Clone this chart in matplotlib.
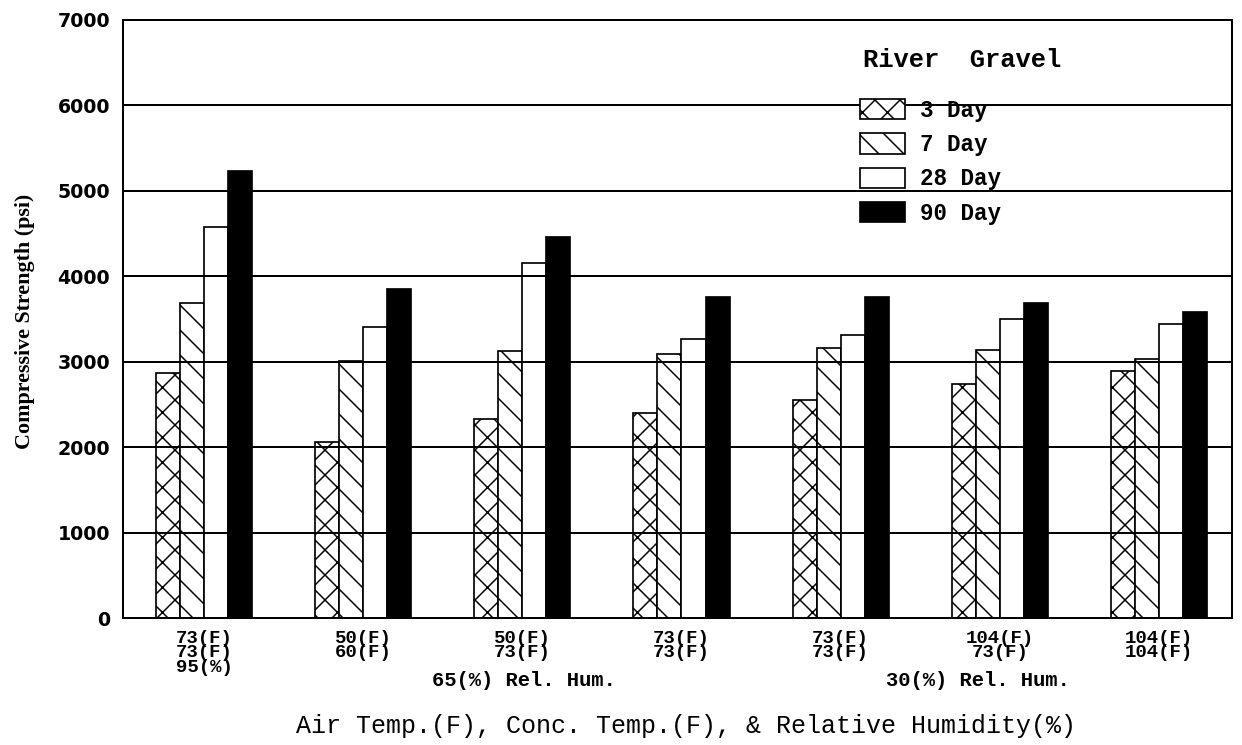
import numpy as np
import matplotlib.pyplot as plt
from matplotlib.patches import Patch
from matplotlib.transforms import blended_transform_factory

DPI = 150
k = 72 / DPI  # pixels -> points

plt.rcParams['hatch.linewidth'] = 1.5 * k

groups = ["73(F)\n73(F)\n95(%)", "50(F)\n60(F)", "50(F)\n73(F)", "73(F)\n73(F)",
          "73(F)\n73(F)", "104(F)\n73(F)", "104(F)\n104(F)"]
day3 = [2870, 2065, 2335, 2405, 2555, 2740, 2890]
day7 = [3690, 3010, 3130, 3090, 3160, 3140, 3035]
day28 = [4575, 3405, 4155, 3265, 3315, 3500, 3440]
day90 = [5230, 3850, 4455, 3755, 3760, 3690, 3585]
series = ["3 Day", "7 Day", "28 Day", "90 Day"]

fig = plt.figure(figsize=(1242 / DPI, 745 / DPI), dpi=DPI)
ax = fig.add_axes([123 / 1242, 127 / 745, 1109 / 1242, 598 / 745])

x = np.arange(len(groups))
w = 0.151
styles = [dict(facecolor="white", hatch="xx"), dict(facecolor="white", hatch="\\\\"),
          dict(facecolor="white", hatch=""), dict(facecolor="black", hatch="")]
for i, (vals, st) in enumerate(zip([day3, day7, day28, day90], styles)):
    ax.bar(x + (i - 1.5) * w, vals, width=w, edgecolor="black", linewidth=1.7 * k,
           zorder=2, **st)

for yv in range(1000, 7000, 1000):
    ax.axhline(yv, color="black", lw=2.0 * k, zorder=3)

ax.set_ylim(0, 7000)
ax.set_xlim(-0.509, 6.459)
ax.set_yticks(range(0, 7001, 1000))
ax.set_yticklabels([str(v) for v in range(0, 7001, 1000)],
                   fontfamily="DejaVu Sans", fontweight="bold", fontsize=19 * k)
ax.set_xticks(x)
ax.set_xticklabels(groups, fontfamily="Liberation Mono", fontweight="bold",
                   fontsize=19 * k, linespacing=0.8, va="top")
ax.tick_params(axis="x", length=0, pad=12 * k)
ax.tick_params(axis="y", length=0, pad=13 * k)
for s in ax.spines.values():
    s.set_linewidth(2.0 * k)

tr = blended_transform_factory(ax.transData, ax.transAxes)
ax.text(2.01, -0.088, "65(%) Rel. Hum.", transform=tr, ha="center", va="top",
        fontfamily="Liberation Mono", fontweight="bold", fontsize=20.5 * k)
ax.text(4.86, -0.088, "30(%) Rel. Hum.", transform=tr, ha="center", va="top",
        fontfamily="Liberation Mono", fontweight="bold", fontsize=20.5 * k)

fig.text(25 / 1242, 1 - 321 / 745, "Compressive Strength (psi)", rotation=90,
         ha="center", va="center", fontfamily="Liberation Serif",
         fontweight="bold", fontsize=22 * k)
fig.text(686 / 1242, 0.026, "Air Temp.(F), Conc. Temp.(F), & Relative Humidity(%)",
         ha="center", va="center", fontfamily="Liberation Mono", fontsize=25 * k)

handles = [Patch(edgecolor="black", linewidth=1.7 * k, **st) for st in styles]
leg = ax.legend(handles, series, loc="upper left",
                bbox_to_anchor=(860 / 1242, 1 - 99 / 745), bbox_transform=fig.transFigure,
                frameon=False, prop=dict(family="Liberation Mono", weight="bold", size=22.5 * k),
                handlelength=2.0, handleheight=1.0, handletextpad=0.66,
                labelspacing=0.5, borderpad=0, borderaxespad=0)
fig.text(863 / 1242, 1 - 60 / 745, "River  Gravel", ha="left", va="center",
         fontfamily="Liberation Mono", fontweight="bold", fontsize=25.5 * k)

fig.savefig("out.png", dpi=DPI)
